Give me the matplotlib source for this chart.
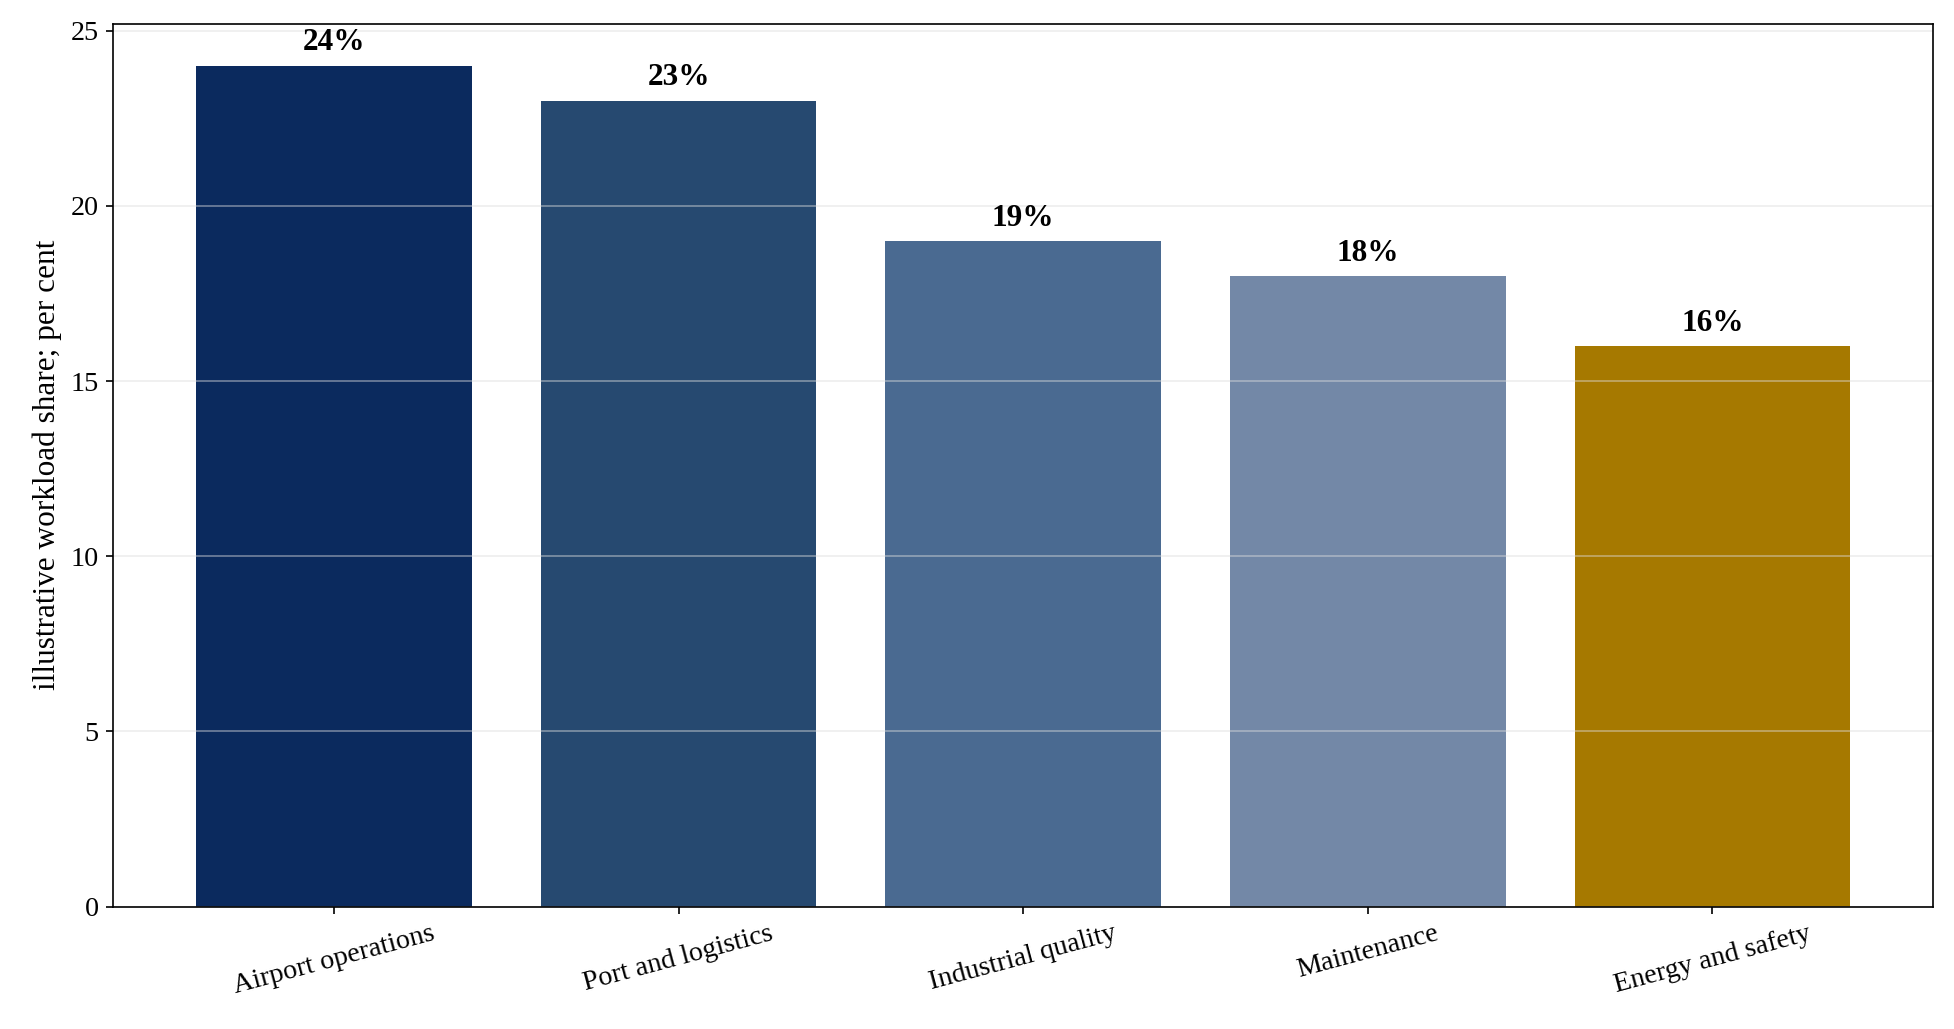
import matplotlib
matplotlib.use("Agg")
import matplotlib.pyplot as plt

categories = ["Airport operations", "Port and logistics", "Industrial quality", "Maintenance", "Energy and safety"]
shares = [24, 23, 19, 18, 16]
bar_colors = ["#0B2A5E", "#264970", "#4A6A91", "#7388A7", "#A67900"]

plt.rcParams['font.family'] = ['Liberation Serif', 'DejaVu Serif']

fig, ax = plt.subplots(figsize=(13.03, 6.86), dpi=150)
fig.subplots_adjust(left=0.058, right=0.989, top=0.977, bottom=0.119)

x = range(len(categories))
ax.bar(x, shares, width=0.8, color=bar_colors)
ax.set_ylim(0, 25.2)

for xi, v in zip(x, shares):
    ax.annotate(f"{v}%", (xi, v), xytext=(0, 4), textcoords="offset points",
                ha="center", va="bottom", fontsize=15, fontweight="bold")

ax.set_xticks(list(x))
ax.set_xticklabels(categories, rotation=15, ha="center", fontsize=13.5)
ax.tick_params(axis="y", labelsize=13.5)
ax.set_ylabel("illustrative workload share; per cent", fontsize=15)
ax.grid(axis="y", color="#dddddd", alpha=0.5, linewidth=0.8)

fig.savefig("out.png", dpi=150)
